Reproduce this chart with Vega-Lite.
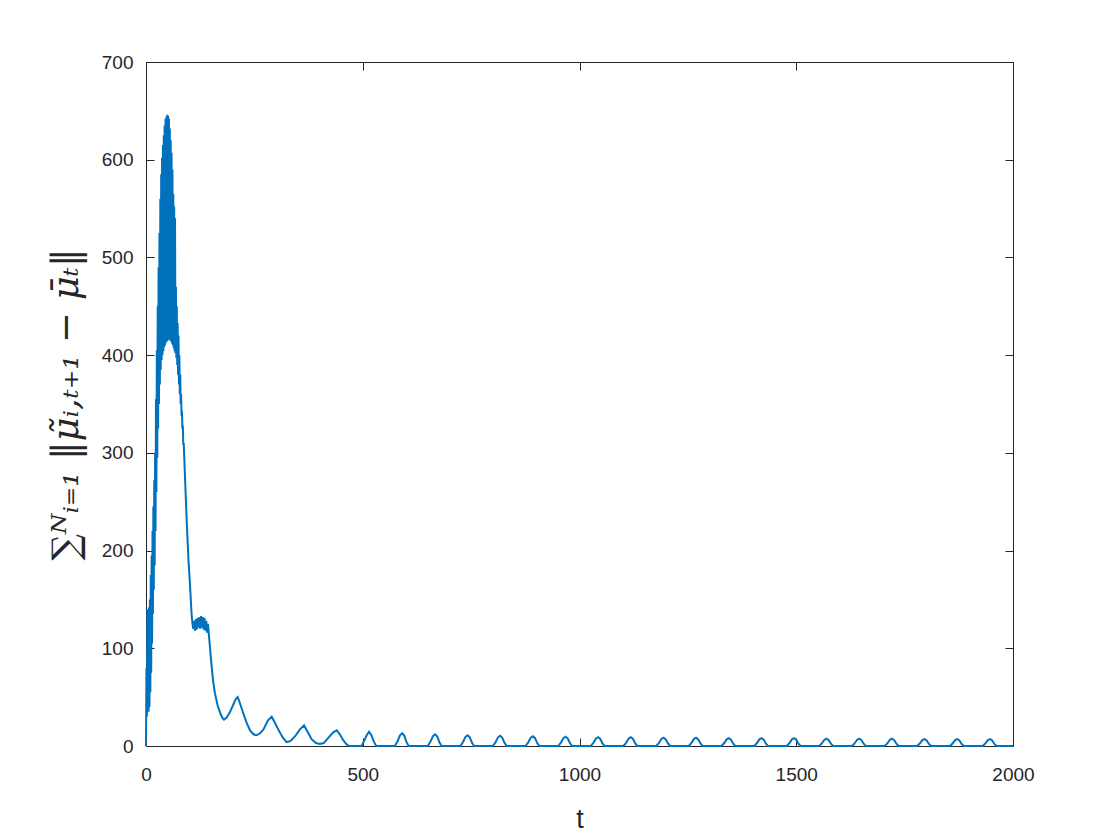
{
  "$schema": "https://vega.github.io/schema/vega-lite/v6.json",
  "width": 867,
  "height": 684,
  "autosize": {"type": "none"},
  "padding": {"left": 146, "top": 62, "right": 107, "bottom": 94},
  "background": "white",
  "config": {
    "view": {"stroke": null},
    "axis": {
      "grid": false,
      "domainColor": "#262626",
      "domainWidth": 1,
      "tickColor": "#262626",
      "tickWidth": 1,
      "tickSize": -8,
      "labelFlush": false,
      "labelFont": "Liberation Sans",
      "labelFontSize": 19,
      "labelColor": "#262626",
      "titleColor": "#262626",
      "titleFontWeight": "normal"
    }
  },
  "layer": [
    {
      "data": {"values": [
        {"t":0,"v":0},{"t":1,"v":80},{"t":2,"v":30},{"t":3,"v":140},{"t":4,"v":35},{"t":5,"v":140},{"t":6,"v":35},{"t":7,"v":142},{"t":8,"v":40},{"t":9,"v":150},
        {"t":10,"v":55},{"t":11,"v":175},{"t":12,"v":75},{"t":13,"v":195},{"t":14,"v":105},{"t":15,"v":220},{"t":16,"v":135},{"t":17,"v":245},{"t":18,"v":160},{"t":19,"v":272},
        {"t":20,"v":185},{"t":21,"v":300},{"t":22,"v":220},{"t":23,"v":355},{"t":24,"v":260},{"t":25,"v":405},{"t":26,"v":295},{"t":27,"v":450},{"t":28,"v":325},{"t":29,"v":490},
        {"t":30,"v":350},{"t":31,"v":525},{"t":32,"v":370},{"t":33,"v":560},{"t":34,"v":385},{"t":35,"v":585},{"t":36,"v":395},{"t":37,"v":602},{"t":38,"v":400},{"t":39,"v":615},
        {"t":40,"v":404},{"t":41,"v":625},{"t":42,"v":408},{"t":43,"v":635},{"t":44,"v":410},{"t":45,"v":642},{"t":46,"v":413},{"t":47,"v":644},{"t":48,"v":414},{"t":49,"v":646},
        {"t":50,"v":415},{"t":51,"v":645},{"t":52,"v":416},{"t":53,"v":642},{"t":54,"v":416},{"t":55,"v":632},{"t":56,"v":415},{"t":57,"v":620},{"t":58,"v":414},{"t":59,"v":607},
        {"t":60,"v":412},{"t":61,"v":590},{"t":62,"v":410},{"t":63,"v":565},{"t":64,"v":407},{"t":65,"v":552},{"t":66,"v":404},{"t":67,"v":540},{"t":68,"v":402},{"t":69,"v":470},
        {"t":70,"v":397},{"t":71,"v":450},{"t":72,"v":390},{"t":73,"v":433},{"t":74,"v":380},{"t":75,"v":420},{"t":76,"v":370},{"t":77,"v":400},{"t":78,"v":360},{"t":79,"v":380},
        {"t":80,"v":350},{"t":81,"v":360},{"t":82,"v":338},{"t":83,"v":343},{"t":84,"v":325},{"t":85,"v":328},{"t":86,"v":308},{"t":87,"v":310},
        {"t":90,"v":275},{"t":94,"v":229},{"t":98,"v":190},{"t":101.5,"v":165},{"t":105,"v":136},{"t":107,"v":126},{"t":109,"v":120},{"t":111,"v":128},{"t":113,"v":118},
        {"t":115,"v":130},{"t":117,"v":119},{"t":119,"v":131},{"t":121,"v":121},{"t":123,"v":132},{"t":125,"v":120},{"t":127,"v":133},{"t":129,"v":121},{"t":131,"v":132},
        {"t":133,"v":119},{"t":135,"v":131},{"t":137,"v":118},{"t":139,"v":128},{"t":141,"v":116},{"t":143,"v":125},{"t":145,"v":114},{"t":147,"v":104},
        {"t":151.5,"v":81},{"t":155,"v":66},{"t":159,"v":54},{"t":165,"v":42},{"t":171,"v":34},{"t":176,"v":29},{"t":180,"v":27},{"t":186,"v":29},{"t":194,"v":35},
        {"t":202,"v":43},{"t":207,"v":48},{"t":211.5,"v":50},{"t":215,"v":46},{"t":218,"v":42},{"t":224,"v":34},{"t":232,"v":24},{"t":240,"v":16},{"t":248,"v":12},
        {"t":255,"v":11},{"t":263,"v":13},{"t":271,"v":17},{"t":281,"v":26},{"t":290,"v":30},{"t":297,"v":24},{"t":305,"v":17},{"t":315,"v":9},{"t":324,"v":4},
        {"t":333,"v":5},{"t":344,"v":10},{"t":355,"v":17},{"t":364.5,"v":21},{"t":372,"v":15},{"t":382,"v":7},{"t":392,"v":3},{"t":401,"v":2},{"t":410,"v":3},
        {"t":420,"v":8},{"t":432,"v":14},{"t":440,"v":16},{"t":447,"v":12},{"t":455,"v":6},{"t":462,"v":2},{"t":468,"v":0},
        {"t":497,"v":0},{"t":503,"v":5},{"t":509,"v":11},{"t":514.5,"v":14.5},{"t":520,"v":11},{"t":525,"v":5},{"t":531,"v":0},
        {"t":574,"v":0},{"t":580,"v":4.6},{"t":586,"v":11},{"t":591,"v":13},{"t":596,"v":10.4},{"t":601,"v":3.9},{"t":606,"v":0},
        {"t":650,"v":0},{"t":656,"v":4.2},{"t":662,"v":10.2},{"t":667,"v":12},{"t":672,"v":9.6},{"t":677,"v":3.6},{"t":682,"v":0},
        {"t":725,"v":0},{"t":731,"v":3.9},{"t":737,"v":9.4},{"t":742,"v":11},{"t":747,"v":8.8},{"t":752,"v":3.3},{"t":757,"v":0},
        {"t":800,"v":0},{"t":806,"v":3.7},{"t":812,"v":8.9},{"t":817,"v":10.5},{"t":822,"v":8.4},{"t":827,"v":3.2},{"t":832,"v":0},
        {"t":875.5,"v":0},{"t":881.5,"v":3.5},{"t":887.5,"v":8.5},{"t":892.5,"v":10},{"t":897.5,"v":8},{"t":902.5,"v":3},{"t":907.5,"v":0},
        {"t":951,"v":0},{"t":957,"v":3.3},{"t":963,"v":8.1},{"t":968,"v":9.5},{"t":973,"v":7.6},{"t":978,"v":2.9},{"t":983,"v":0},
        {"t":1026,"v":0},{"t":1032,"v":3.2},{"t":1038,"v":7.7},{"t":1043,"v":9},{"t":1048,"v":7.2},{"t":1053,"v":2.7},{"t":1058,"v":0},
        {"t":1101.5,"v":0},{"t":1107.5,"v":3.2},{"t":1113.5,"v":7.7},{"t":1118.5,"v":9},{"t":1123.5,"v":7.2},{"t":1128.5,"v":2.7},{"t":1133.5,"v":0},
        {"t":1177,"v":0},{"t":1183,"v":3},{"t":1189,"v":7.2},{"t":1194,"v":8.5},{"t":1199,"v":6.8},{"t":1204,"v":2.6},{"t":1209,"v":0},
        {"t":1252,"v":0},{"t":1258,"v":3},{"t":1264,"v":7.2},{"t":1269,"v":8.5},{"t":1274,"v":6.8},{"t":1279,"v":2.6},{"t":1284,"v":0},
        {"t":1327.5,"v":0},{"t":1333.5,"v":2.8},{"t":1339.5,"v":6.8},{"t":1344.5,"v":8},{"t":1349.5,"v":6.4},{"t":1354.5,"v":2.4},{"t":1359.5,"v":0},
        {"t":1403,"v":0},{"t":1409,"v":2.8},{"t":1415,"v":6.8},{"t":1420,"v":8},{"t":1425,"v":6.4},{"t":1430,"v":2.4},{"t":1435,"v":0},
        {"t":1478,"v":0},{"t":1484,"v":2.8},{"t":1490,"v":6.8},{"t":1495,"v":8},{"t":1500,"v":6.4},{"t":1505,"v":2.4},{"t":1510,"v":0},
        {"t":1553,"v":0},{"t":1559,"v":2.6},{"t":1565,"v":6.4},{"t":1570,"v":7.5},{"t":1575,"v":6},{"t":1580,"v":2.3},{"t":1585,"v":0},
        {"t":1628.5,"v":0},{"t":1634.5,"v":2.6},{"t":1640.5,"v":6.4},{"t":1645.5,"v":7.5},{"t":1650.5,"v":6},{"t":1655.5,"v":2.3},{"t":1660.5,"v":0},
        {"t":1704,"v":0},{"t":1710,"v":2.6},{"t":1716,"v":6.4},{"t":1721,"v":7.5},{"t":1726,"v":6},{"t":1731,"v":2.3},{"t":1736,"v":0},
        {"t":1779,"v":0},{"t":1785,"v":2.5},{"t":1791,"v":6},{"t":1796,"v":7},{"t":1801,"v":5.6},{"t":1806,"v":2.1},{"t":1811,"v":0},
        {"t":1854.5,"v":0},{"t":1860.5,"v":2.5},{"t":1866.5,"v":6},{"t":1871.5,"v":7},{"t":1876.5,"v":5.6},{"t":1881.5,"v":2.1},{"t":1886.5,"v":0},
        {"t":1930,"v":0},{"t":1936,"v":2.5},{"t":1942,"v":6},{"t":1947,"v":7},{"t":1952,"v":5.6},{"t":1957,"v":2.1},{"t":1962,"v":0},
        {"t":2000,"v":0}
      ]},
      "mark": {"type": "line", "color": "#0072BD", "strokeWidth": 2, "clip": false},
      "encoding": {
        "x": {"field": "t", "type": "quantitative",
          "scale": {"domain": [0, 2000], "nice": false, "zero": false},
          "axis": {"orient": "bottom", "values": [0, 500, 1000, 1500, 2000], "format": "d", "labelPadding": 27,
            "title": "t", "titleFont": "Liberation Sans", "titleFontSize": 27, "titlePadding": 22}},
        "y": {"field": "v", "type": "quantitative",
          "scale": {"domain": [0, 700], "nice": false},
          "axis": {"orient": "left", "values": [0, 100, 200, 300, 400, 500, 600, 700], "format": "d", "labelPadding": 21,
            "title": "∑ᴺᵢ₌₁ ‖μ̃ᵢ,ₜ₊₁ − μ̄ₜ‖", "titleFont": "DejaVu Serif", "titleFontStyle": "italic", "titleFontSize": 37, "titlePadding": 16}}
      }
    },
    {
      "data": {"values": [{"t": 0, "v": 0}]},
      "mark": {"type": "point", "opacity": 0},
      "encoding": {
        "x": {"field": "t", "type": "quantitative",
          "axis": {"orient": "top", "values": [0, 500, 1000, 1500, 2000], "labels": false, "title": null}},
        "y": {"field": "v", "type": "quantitative",
          "axis": {"orient": "right", "values": [0, 100, 200, 300, 400, 500, 600, 700], "labels": false, "title": null}}
      }
    }
  ],
  "resolve": {"axis": {"x": "independent", "y": "independent"}}
}
